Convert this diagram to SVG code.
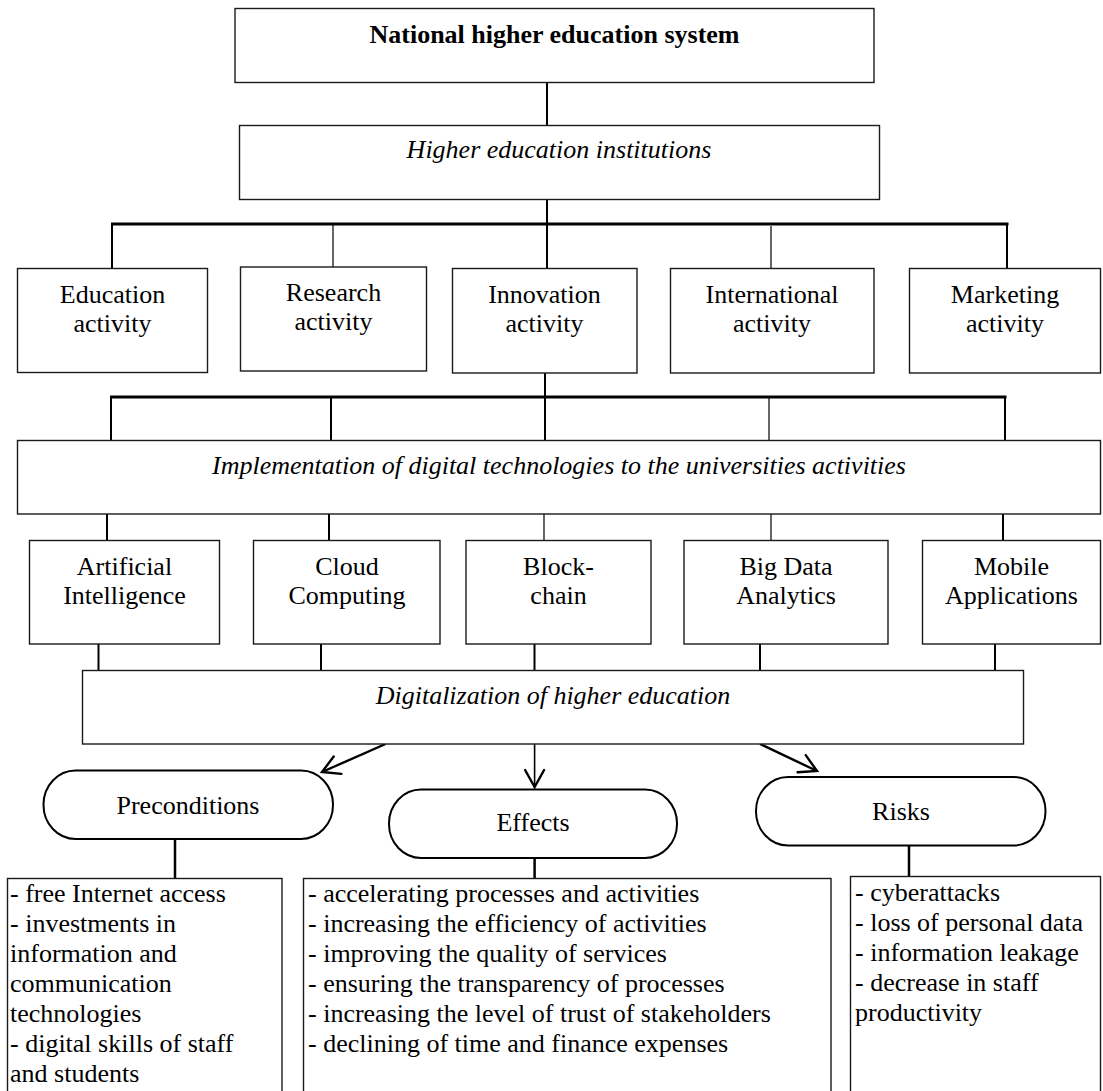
<svg xmlns="http://www.w3.org/2000/svg" width="1103" height="1091" viewBox="0 0 1103 1091">
<style>
  .box { fill: #fff; stroke: #1a1a1a; stroke-width: 1.4; }
  .rbox { fill: #fff; stroke: #000; stroke-width: 2; }
  .t { font-family: "Liberation Serif", "Times New Roman", serif; font-size: 26px; fill: #000; }
  .c { text-anchor: middle; }
  .b { font-weight: bold; }
  .i { font-style: italic; }
  .ln { stroke: #000; stroke-width: 2; fill: none; }
  .thin { stroke-width: 1.2; }
  .bus { stroke-width: 3; }
  .arr { stroke: #000; stroke-width: 2.4; fill: none; }
</style>
<defs>
  <marker id="vhead" markerUnits="userSpaceOnUse" orient="auto" refX="0" refY="0" markerWidth="40" markerHeight="40" overflow="visible">
    <path d="M -17 -9.5 L 0 0 L -17 9.5" fill="none" stroke="#000" stroke-width="2.4" stroke-linecap="round" stroke-linejoin="miter"/>
  </marker>
</defs>

<g id="connectors">
  <line class="ln" x1="547" y1="82" x2="547" y2="125"/>
  <line class="ln" x1="547" y1="199" x2="547" y2="224"/>
  <line class="ln bus" x1="111" y1="224" x2="1008.5" y2="224"/>
  <line class="ln" x1="112" y1="224" x2="112" y2="268"/>
  <line class="ln thin" x1="333" y1="224" x2="333" y2="267"/>
  <line class="ln" x1="547" y1="224" x2="547" y2="268"/>
  <line class="ln thin" x1="771" y1="226" x2="771" y2="268"/>
  <line class="ln" x1="1007" y1="224" x2="1007" y2="268"/>

  <line class="ln" x1="545" y1="373" x2="545" y2="397"/>
  <line class="ln bus" x1="110" y1="397" x2="1006.5" y2="397"/>
  <line class="ln" x1="111" y1="398" x2="111" y2="440"/>
  <line class="ln" x1="331" y1="398" x2="331" y2="440"/>
  <line class="ln" x1="545" y1="397" x2="545" y2="440"/>
  <line class="ln thin" x1="769" y1="398" x2="769" y2="440"/>
  <line class="ln" x1="1005" y1="398" x2="1005" y2="440"/>

  <line class="ln" x1="107" y1="514" x2="107" y2="541"/>
  <line class="ln" x1="329" y1="514" x2="329" y2="541"/>
  <line class="ln thin" x1="544" y1="514" x2="544" y2="541"/>
  <line class="ln thin" x1="771" y1="514" x2="771" y2="541"/>
  <line class="ln" x1="1003" y1="514" x2="1003" y2="541"/>

  <line class="ln" x1="98.5" y1="644" x2="98.5" y2="670"/>
  <line class="ln" x1="321" y1="644" x2="321" y2="670"/>
  <line class="ln" x1="534.5" y1="644" x2="534.5" y2="670"/>
  <line class="ln" x1="760" y1="644" x2="760" y2="670"/>
  <line class="ln" x1="995" y1="644" x2="995" y2="670"/>

  <line class="arr" x1="385.5" y1="744" x2="322" y2="772" marker-end="url(#vhead)"/>
  <line class="arr" x1="534.6" y1="744" x2="534.6" y2="787" marker-end="url(#vhead)" style="stroke-width:1.6"/>
  <line class="arr" x1="760" y1="744" x2="817" y2="771" marker-end="url(#vhead)"/>

  <line class="ln" x1="175" y1="839" x2="175" y2="878" style="stroke-width:2.5"/>
  <line class="ln" x1="534.6" y1="858" x2="534.6" y2="878" style="stroke-width:2.5"/>
  <line class="ln" x1="909" y1="846" x2="909" y2="876" style="stroke-width:2.5"/>
</g>

<g id="national">
  <rect class="box" x="235" y="8.5" width="639" height="74"/>
  <text class="t c b" x="554.5" y="43">National higher education system</text>
</g>
<g id="hei">
  <rect class="box" x="239.5" y="125.5" width="640" height="74"/>
  <text class="t c i" x="559" y="158">Higher education institutions</text>
</g>

<g id="education">
  <rect class="box" x="17.5" y="268.5" width="190" height="104"/>
  <text class="t c" x="112.5" y="303">Education</text>
  <text class="t c" x="112.5" y="332">activity</text>
</g>
<g id="research">
  <rect class="box" x="240.5" y="267" width="186" height="104"/>
  <text class="t c" x="333.5" y="300.5">Research</text>
  <text class="t c" x="333.5" y="329.5">activity</text>
</g>
<g id="innovation">
  <rect class="box" x="452.5" y="268.5" width="184.5" height="104.5"/>
  <text class="t c" x="544.5" y="303">Innovation</text>
  <text class="t c" x="544.5" y="332">activity</text>
</g>
<g id="international">
  <rect class="box" x="670.5" y="268.5" width="203.5" height="104.5"/>
  <text class="t c" x="772" y="303">International</text>
  <text class="t c" x="772" y="332">activity</text>
</g>
<g id="marketing">
  <rect class="box" x="909.5" y="268.5" width="191" height="104.5"/>
  <text class="t c" x="1005" y="303">Marketing</text>
  <text class="t c" x="1005" y="332">activity</text>
</g>

<g id="implementation">
  <rect class="box" x="17.5" y="440.5" width="1083" height="73.5"/>
  <text class="t c i" x="559" y="473.5">Implementation of digital technologies to the universities activities</text>
</g>

<g id="ai">
  <rect class="box" x="29.5" y="540.5" width="190" height="103.5"/>
  <text class="t c" x="124.5" y="575">Artificial</text>
  <text class="t c" x="124.5" y="604">Intelligence</text>
</g>
<g id="cloud">
  <rect class="box" x="253.5" y="540.5" width="186.5" height="103.5"/>
  <text class="t c" x="347" y="575">Cloud</text>
  <text class="t c" x="347" y="604">Computing</text>
</g>
<g id="blockchain">
  <rect class="box" x="466" y="540.5" width="185" height="103.5"/>
  <text class="t c" x="558.5" y="575">Block-</text>
  <text class="t c" x="558.5" y="604">chain</text>
</g>
<g id="bigdata">
  <rect class="box" x="684" y="540.5" width="204" height="103.5"/>
  <text class="t c" x="786" y="575">Big Data</text>
  <text class="t c" x="786" y="604">Analytics</text>
</g>
<g id="mobile">
  <rect class="box" x="922.5" y="540.5" width="178" height="103.5"/>
  <text class="t c" x="1011.5" y="575">Mobile</text>
  <text class="t c" x="1011.5" y="604">Applications</text>
</g>

<g id="digitalization">
  <rect class="box" x="82.5" y="670.5" width="941" height="73.5"/>
  <text class="t c i" x="553" y="703.5">Digitalization of higher education</text>
</g>

<g id="preconditions">
  <rect class="rbox" x="43.5" y="770.5" width="289.5" height="68.5" rx="32" ry="34"/>
  <text class="t c" x="188" y="814">Preconditions</text>
</g>
<g id="effects">
  <rect class="rbox" x="389" y="789.5" width="288" height="68.5" rx="32" ry="34"/>
  <text class="t c" x="533" y="831">Effects</text>
</g>
<g id="risks">
  <rect class="rbox" x="756" y="777" width="289.5" height="68.5" rx="32" ry="34"/>
  <text class="t c" x="901" y="820">Risks</text>
</g>

<g id="preconditions-list">
  <rect class="box" x="7.5" y="878.5" width="274.5" height="230"/>
  <text class="t" x="10" y="901.7">- free Internet access</text>
  <text class="t" x="10" y="931.7">- investments in</text>
  <text class="t" x="10" y="961.7">information and</text>
  <text class="t" x="10" y="991.7">communication</text>
  <text class="t" x="10" y="1021.7">technologies</text>
  <text class="t" x="10" y="1051.7">- digital skills of staff</text>
  <text class="t" x="10" y="1081.7">and students</text>
</g>
<g id="effects-list">
  <rect class="box" x="303.5" y="878.5" width="527.5" height="230"/>
  <text class="t" x="308" y="901.7">- accelerating processes and activities</text>
  <text class="t" x="308" y="931.7">- increasing the efficiency of activities</text>
  <text class="t" x="308" y="961.7">- improving the quality of services</text>
  <text class="t" x="308" y="991.7">- ensuring the transparency of processes</text>
  <text class="t" x="308" y="1021.7">- increasing the level of trust of stakeholders</text>
  <text class="t" x="308" y="1051.7">- declining of time and finance expenses</text>
</g>
<g id="risks-list">
  <rect class="box" x="850.5" y="876.5" width="250" height="230"/>
  <text class="t" x="855" y="900.7">- cyberattacks</text>
  <text class="t" x="855" y="930.7">- loss of personal data</text>
  <text class="t" x="855" y="960.7">- information leakage</text>
  <text class="t" x="855" y="990.7">- decrease in staff</text>
  <text class="t" x="855" y="1020.7">productivity</text>
</g>
</svg>
